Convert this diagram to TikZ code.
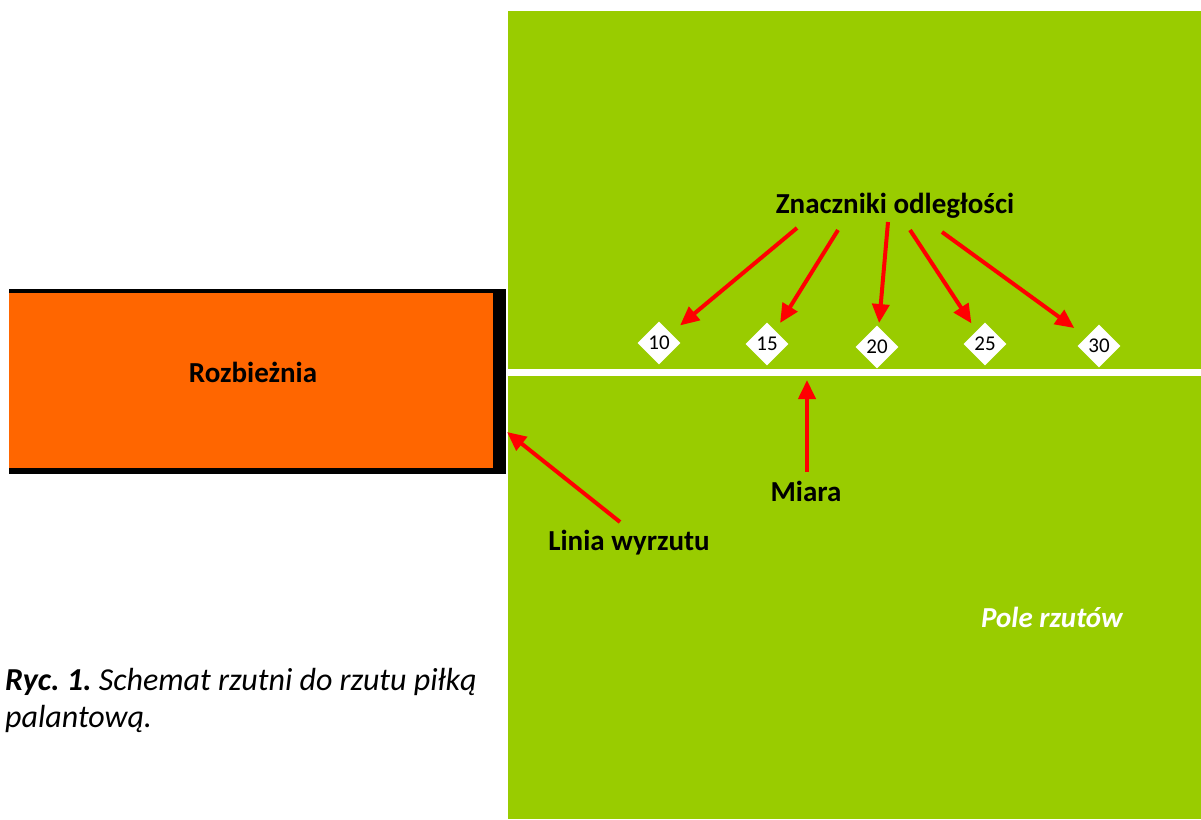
\documentclass[tikz,border=0pt]{standalone}
\usepackage{fontspec}
\setmainfont{Carlito}
\usetikzlibrary{shapes.geometric,arrows.meta}
\definecolor{fieldgreen}{HTML}{99CC00}
\definecolor{runway}{HTML}{FF6600}
\definecolor{arrowred}{HTML}{FF0000}
\frenchspacing
\begin{document}
\begin{tikzpicture}[x=1pt,y=-1pt,
  lbl/.style={font=\fontsize{29}{35}\selectfont\bfseries, inner sep=0pt, anchor=base},
  caption/.style={inner sep=0pt, anchor=base west, font=\fontsize{32}{38}\selectfont\itshape},
  marker/.style={diamond, fill=white, inner sep=0pt, minimum width=43pt, minimum height=43pt, font=\fontsize{21}{24}\selectfont},
  redarrow/.style={draw=arrowred, line width=4pt, -{Triangle[length=19pt,width=17pt]}}]
\useasboundingbox (0,0) rectangle (1201,819);
% field
\fill[fieldgreen] (508,11) rectangle (1201,819);
\fill[white] (508,369) rectangle (1201,376);
% runway
\fill[black] (9,289) rectangle (506,474);
\node[fill=runway, inner sep=0pt, minimum width=484pt, minimum height=175pt, anchor=north west] (rb) at (9,293) {};
\node[lbl] (rbl) at (253,382) {Rozbieżnia};
% distance markers
\node[marker] (d10) at (659,343) {10};
\node[marker] (d15) at (767,344) {15};
\node[marker] (d20) at (877,347) {20};
\node[marker] (d25) at (985,344) {25};
\node[marker] (d30) at (1099,346) {30};
% labels
\node[lbl] (zn) at (895,213) {Znaczniki odległości};
\node[lbl] (mi) at (806,501) {Miara};
\node[lbl] (lw) at (629,550) {Linia wyrzutu};
\node[lbl, font=\fontsize{29}{35}\selectfont\bfseries\itshape, text=white] (pr) at (1052,627) {Pole rzutów};
% caption
\node[caption] (cap1) at (5,690) {\textbf{Ryc. 1.} Schemat rzutni do rzutu piłką};
\node[caption] (cap2) at (5,727) {palantową.};
% arrow start points
\coordinate (s10) at (797,228);
\coordinate (s15) at (838,230);
\coordinate (s20) at (888,222);
\coordinate (s25) at (910,230);
\coordinate (s30) at (942,232);
\coordinate (smi) at (807,472);
\coordinate (tmi) at (807,380);
\coordinate (slw) at (620,522);
\coordinate (tlw) at (507,432);
% arrows
\draw[redarrow, shorten >=12pt] (s10) -- (d10);
\draw[redarrow, shorten >=9pt] (s15) -- (d15);
\draw[redarrow, shorten >=4pt] (s20) -- (d20);
\draw[redarrow, shorten >=9pt] (s25) -- (d25);
\draw[redarrow, shorten >=15pt] (s30) -- (d30);
\draw[redarrow] (smi) -- (tmi);
\draw[redarrow] (slw) -- (tlw);
\end{tikzpicture}
\end{document}
